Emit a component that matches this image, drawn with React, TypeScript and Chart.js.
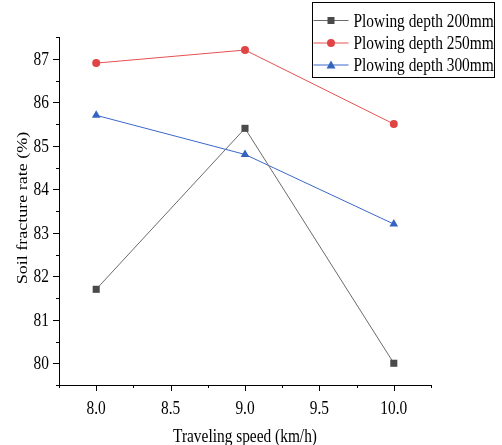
import React, { useEffect, useRef } from "react";
import { Chart, registerables } from "chart.js";

Chart.register(...registerables);

const speeds = [8.0, 9.0, 10.0];
const depth200 = [81.7, 85.4, 80.0];
const depth250 = [86.9, 87.2, 85.5];
const depth300 = [85.7, 84.8, 83.2];
const seriesLabels = ["Plowing depth 200mm", "Plowing depth 250mm", "Plowing depth 300mm"];
const xTicks = [8.0, 8.5, 9.0, 9.5, 10.0];
const yTicks = [80, 81, 82, 83, 84, 85, 86, 87];
const xTitle = "Traveling speed (km/h)";
const yTitle = "Soil fracture rate (%)";

const FONT = "'Liberation Serif', 'Times New Roman', serif";
const FONT_SIZE = 15.4;
// Text in this figure is set slightly tall relative to its width.
const STRETCH = 1.17;

// Draws a label with the tall text proportions; (x, y) is the anchor point.
function tallText(
  ctx: CanvasRenderingContext2D,
  text: string,
  x: number,
  y: number,
  align: CanvasTextAlign,
  baseline: CanvasTextBaseline,
  rotate = false
) {
  ctx.save();
  ctx.translate(x, y);
  if (rotate) {
    ctx.rotate(-Math.PI / 2);
    ctx.scale(STRETCH, 1);
  } else {
    ctx.scale(1, STRETCH);
  }
  ctx.textAlign = align;
  ctx.textBaseline = baseline;
  ctx.fillText(text, 0, 0);
  ctx.restore();
}

// Outward major/minor tick marks, tick labels and axis titles.
const axesDecor = {
  id: "axesDecor",
  afterDraw(chart: any) {
    const { ctx, scales } = chart;
    const xs = scales.x;
    const ys = scales.y;
    ctx.save();
    ctx.strokeStyle = "#000";
    ctx.lineWidth = 1;
    ctx.beginPath();
    for (let v = 7.75; v <= 10.25 + 1e-9; v += 0.25) {
      const major = Math.abs(v * 2 - Math.round(v * 2)) < 1e-6;
      const px = Math.round(xs.getPixelForValue(v)) + 0.5;
      const y0 = ys.bottom;
      ctx.moveTo(px, y0);
      ctx.lineTo(px, y0 + (major ? 6 : 3));
    }
    for (let v = 79.5; v <= 87.5 + 1e-9; v += 0.5) {
      const major = Math.abs(v - Math.round(v)) < 1e-6;
      const py = Math.round(ys.getPixelForValue(v)) + 0.5;
      const x0 = xs.left;
      ctx.moveTo(x0, py);
      ctx.lineTo(x0 - (major ? 6 : 3), py);
    }
    ctx.stroke();

    ctx.fillStyle = "#000";
    ctx.font = `${FONT_SIZE}px ${FONT}`;
    xTicks.forEach((v) => {
      tallText(ctx, v.toFixed(1), xs.getPixelForValue(v), ys.bottom + 28.5, "center", "alphabetic");
    });
    yTicks.forEach((v) => {
      tallText(ctx, String(v), xs.left - 10, ys.getPixelForValue(v) + 6, "right", "alphabetic");
    });
    tallText(ctx, xTitle, (xs.left + xs.right) / 2, 441.5, "center", "alphabetic");
    tallText(ctx, yTitle, 27, (ys.top + ys.bottom) / 2 - 3, "center", "alphabetic", true);
    ctx.restore();
  },
};

// Boxed legend in the upper right corner.
const boxLegend = {
  id: "boxLegend",
  afterDraw(chart: any) {
    const { ctx } = chart;
    const left = 312.5;
    const top = 2.5;
    const width = 182;
    const height = 75;
    ctx.save();
    ctx.fillStyle = "#fff";
    ctx.fillRect(left, top, width, height);
    ctx.strokeStyle = "#000";
    ctx.lineWidth = 1;
    ctx.strokeRect(left, top, width, height);
    ctx.font = `${FONT_SIZE}px ${FONT}`;
    const rows = [20, 42.5, 64.5];
    chart.data.datasets.forEach((ds: any, i: number) => {
      const y = rows[i];
      ctx.strokeStyle = ds.borderColor;
      ctx.beginPath();
      ctx.moveTo(left + 1, y + 0.5);
      ctx.lineTo(left + 36, y + 0.5);
      ctx.stroke();
      ctx.fillStyle = ds.pointBackgroundColor;
      const cx = left + 18.5;
      if (ds.pointStyle === "rect") {
        ctx.fillRect(cx - 3.5, y - 3, 7, 7);
      } else if (ds.pointStyle === "circle") {
        ctx.beginPath();
        ctx.arc(cx, y + 0.5, 4, 0, Math.PI * 2);
        ctx.fill();
      } else {
        ctx.beginPath();
        ctx.moveTo(cx, y - 4);
        ctx.lineTo(cx + 4.5, y + 4);
        ctx.lineTo(cx - 4.5, y + 4);
        ctx.closePath();
        ctx.fill();
      }
      ctx.fillStyle = "#000";
      tallText(ctx, ds.label, left + 41, y + 6.5, "left", "alphabetic");
    });
    ctx.restore();
  },
};

export default function App() {
  const canvasRef = useRef<HTMLCanvasElement>(null);

  useEffect(() => {
    document.body.style.margin = "0";
    const toPoints = (ys: number[]) => speeds.map((x, i) => ({ x, y: ys[i] }));
    const chart = new Chart(canvasRef.current!, {
      type: "line",
      data: {
        datasets: [
          {
            label: seriesLabels[0],
            data: toPoints(depth200),
            borderColor: "#6a6a6a",
            borderWidth: 1,
            pointStyle: "rect",
            pointRadius: 5,
            pointBackgroundColor: "#4a4a4a",
            pointBorderWidth: 0,
          },
          {
            label: seriesLabels[1],
            data: toPoints(depth250),
            borderColor: "#e85050",
            borderWidth: 1,
            pointStyle: "circle",
            pointRadius: 4,
            pointBackgroundColor: "#e04444",
            pointBorderWidth: 0,
          },
          {
            label: seriesLabels[2],
            data: toPoints(depth300),
            borderColor: "#3a68c8",
            borderWidth: 1,
            pointStyle: "triangle",
            pointRadius: 5,
            pointBackgroundColor: "#3464c0",
            pointBorderWidth: 0,
          },
        ],
      },
      options: {
        animation: false,
        responsive: false,
        layout: { padding: { top: 37, right: 71, left: 0, bottom: 0 } },
        plugins: { legend: { display: false }, tooltip: { enabled: false } },
        scales: {
          x: {
            type: "linear",
            min: 7.75,
            max: 10.25,
            afterBuildTicks: (s: any) => {
              s.ticks = xTicks.map((value) => ({ value }));
            },
            afterFit: (s: any) => {
              s.height = 60;
            },
            grid: { display: false },
            border: { display: true, color: "#000", width: 1 },
            ticks: { display: false },
          },
          y: {
            type: "linear",
            min: 79.5,
            max: 87.5,
            afterBuildTicks: (s: any) => {
              s.ticks = yTicks.map((value) => ({ value }));
            },
            afterFit: (s: any) => {
              s.width = 59;
            },
            grid: { display: false },
            border: { display: true, color: "#000", width: 1 },
            ticks: { display: false },
          },
        },
      },
      plugins: [axesDecor, boxLegend],
    });
    return () => chart.destroy();
  }, []);

  return (
    <div style={{ width: 502, height: 445 }}>
      <canvas ref={canvasRef} width={502} height={445} />
    </div>
  );
}
